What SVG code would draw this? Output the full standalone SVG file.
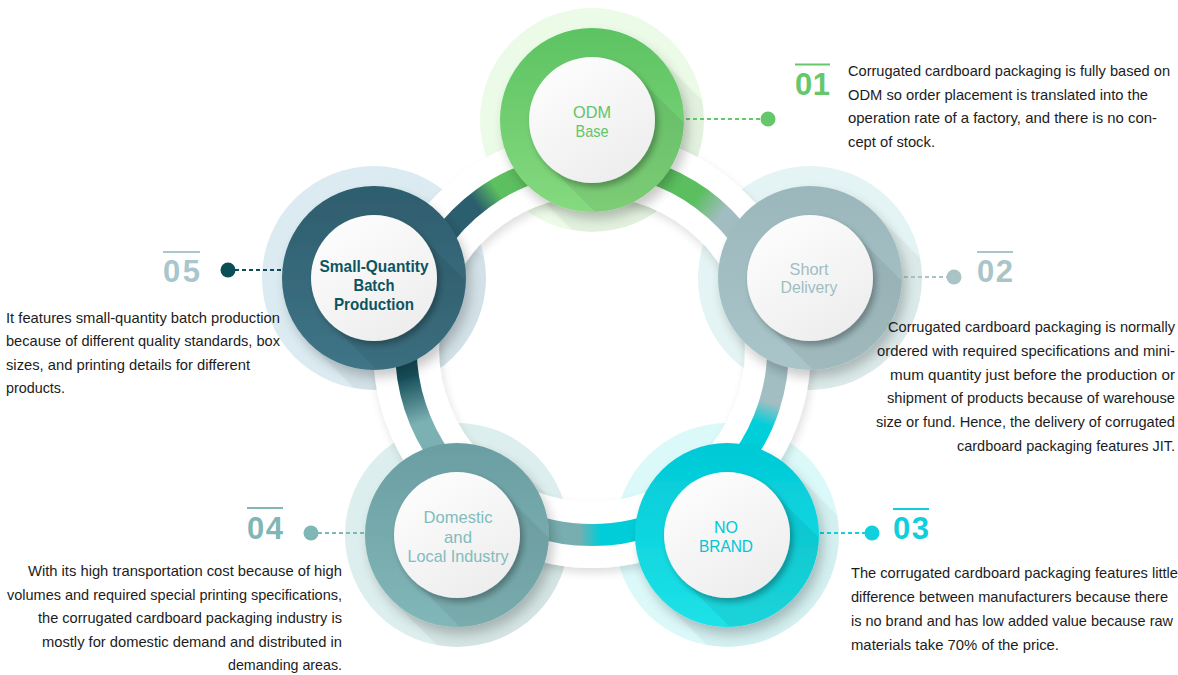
<svg xmlns="http://www.w3.org/2000/svg" width="1178" height="675" viewBox="0 0 1178 675">
<style>
.body{font-family:"Liberation Sans",Arial,sans-serif;font-size:14.5px;fill:#1c1c1c}
.r{text-anchor:end}
.lbl{font-family:"Liberation Sans",Arial,sans-serif;font-size:17px;text-anchor:middle}
.num{font-family:"Liberation Sans",Arial,sans-serif;font-size:31px;font-weight:bold}
.dash{stroke-width:2;stroke-dasharray:4 3;fill:none}
.inner{fill:url(#gInner);filter:url(#fInner)}
.ring{filter:url(#fRing)}
.ls{fill:#000;fill-opacity:0.04}
.ls2{fill:#000;fill-opacity:0.06}
.band{fill:none;stroke-width:22}
</style>
<defs>
<filter id="fRing" x="-30%" y="-30%" width="160%" height="160%">
<feGaussianBlur in="SourceAlpha" stdDeviation="6"/><feOffset dx="4" dy="7"/>
<feComponentTransfer><feFuncA type="linear" slope="0.22"/></feComponentTransfer>
<feMerge><feMergeNode/><feMergeNode in="SourceGraphic"/></feMerge>
</filter>
<filter id="fInner" x="-30%" y="-30%" width="160%" height="160%">
<feGaussianBlur in="SourceAlpha" stdDeviation="3"/><feOffset dx="3" dy="4"/>
<feComponentTransfer><feFuncA type="linear" slope="0.3"/></feComponentTransfer>
<feMerge><feMergeNode/><feMergeNode in="SourceGraphic"/></feMerge>
</filter>
<filter id="fBand" x="-30%" y="-30%" width="160%" height="160%">
<feGaussianBlur in="SourceAlpha" stdDeviation="5"/><feOffset dx="2" dy="5"/>
<feComponentTransfer><feFuncA type="linear" slope="0.13"/></feComponentTransfer>
<feMerge><feMergeNode/><feMergeNode in="SourceGraphic"/></feMerge>
</filter>
<linearGradient id="gInner" x1="0" y1="0" x2="0.6" y2="1"><stop offset="0" stop-color="#ffffff"/><stop offset="1" stop-color="#eeeeee"/></linearGradient>
<linearGradient id="gOdm" x1="0" y1="0" x2="0" y2="1"><stop offset="0" stop-color="#5cc362"/><stop offset="1" stop-color="#86d97f"/></linearGradient>
<linearGradient id="gShort" x1="0" y1="0" x2="0" y2="1"><stop offset="0" stop-color="#9bb7bc"/><stop offset="1" stop-color="#a9c5c9"/></linearGradient>
<linearGradient id="gNb" x1="0" y1="0" x2="0" y2="1"><stop offset="0" stop-color="#00c9d6"/><stop offset="1" stop-color="#1fe2e8"/></linearGradient>
<linearGradient id="gDom" x1="0" y1="0" x2="0" y2="1"><stop offset="0" stop-color="#6a9ea2"/><stop offset="1" stop-color="#82b7b9"/></linearGradient>
<linearGradient id="gSq" x1="0" y1="0" x2="0" y2="1"><stop offset="0" stop-color="#2e5d6d"/><stop offset="1" stop-color="#3f7587"/></linearGradient>
<linearGradient id="bSqOdm" gradientUnits="userSpaceOnUse" x1="451" y1="228" x2="520" y2="177.5"><stop offset="0" stop-color="#2b5e6e"/><stop offset="0.4" stop-color="#2b5e6e"/><stop offset="0.7" stop-color="#5cbf60"/><stop offset="1" stop-color="#5cbf60"/></linearGradient>
<linearGradient id="bOdmShort" gradientUnits="userSpaceOnUse" x1="664" y1="177.5" x2="733" y2="228"><stop offset="0" stop-color="#5bbf5f"/><stop offset="0.45" stop-color="#5bbf5f"/><stop offset="0.8" stop-color="#a2bdc1"/><stop offset="1" stop-color="#a2bdc1"/></linearGradient>
<linearGradient id="bShortNb" gradientUnits="userSpaceOnUse" x1="777" y1="364" x2="751" y2="446"><stop offset="0" stop-color="#a2bec2"/><stop offset="0.45" stop-color="#a2bec2"/><stop offset="0.72" stop-color="#00cfd9"/><stop offset="1" stop-color="#00cfd9"/></linearGradient>
<linearGradient id="bNbDom" gradientUnits="userSpaceOnUse" x1="635" y1="530" x2="549" y2="530"><stop offset="0" stop-color="#00cdd8"/><stop offset="0.4" stop-color="#00cdd8"/><stop offset="0.65" stop-color="#78aeb0"/><stop offset="1" stop-color="#78aeb0"/></linearGradient>
<linearGradient id="bDomSq" gradientUnits="userSpaceOnUse" x1="433" y1="446" x2="407" y2="364"><stop offset="0" stop-color="#7cb1b3"/><stop offset="0.3" stop-color="#7cb1b3"/><stop offset="0.85" stop-color="#164f5b"/><stop offset="1" stop-color="#164f5b"/></linearGradient>
<clipPath id="hOdm" clipPathUnits="userSpaceOnUse"><circle cx="592" cy="120" r="112"/></clipPath>
<clipPath id="hShort" clipPathUnits="userSpaceOnUse"><circle cx="810" cy="278" r="112"/></clipPath>
<clipPath id="hNb" clipPathUnits="userSpaceOnUse"><circle cx="727" cy="535" r="112"/></clipPath>
<clipPath id="hDom" clipPathUnits="userSpaceOnUse"><circle cx="457" cy="535" r="112"/></clipPath>
<clipPath id="hSq" clipPathUnits="userSpaceOnUse"><circle cx="374" cy="278" r="112"/></clipPath>
<clipPath id="rOdm" clipPathUnits="userSpaceOnUse"><circle cx="592" cy="120" r="92"/></clipPath>
<clipPath id="rShort" clipPathUnits="userSpaceOnUse"><circle cx="810" cy="278" r="92"/></clipPath>
<clipPath id="rNb" clipPathUnits="userSpaceOnUse"><circle cx="727" cy="535" r="92"/></clipPath>
<clipPath id="rDom" clipPathUnits="userSpaceOnUse"><circle cx="457" cy="535" r="92"/></clipPath>
<clipPath id="rSq" clipPathUnits="userSpaceOnUse"><circle cx="374" cy="278" r="92"/></clipPath>
</defs>
<rect width="1178" height="675" fill="#ffffff"/>

<g id="halos">
<circle cx="592" cy="120" r="112" fill="#ecfbe8"/>
<path class="ls" clip-path="url(#hOdm)" d="M657 55 L817 215 L687 345 L527 185 Z"/>
<circle cx="810" cy="278" r="112" fill="#e4f3f3"/>
<path class="ls" clip-path="url(#hShort)" d="M875 213 L1035 373 L905 503 L745 343 Z"/>
<circle cx="727" cy="535" r="112" fill="#dcf9fa"/>
<path class="ls" clip-path="url(#hNb)" d="M792 470 L952 630 L822 760 L662 600 Z"/>
<circle cx="457" cy="535" r="112" fill="#dceeed"/>
<path class="ls" clip-path="url(#hDom)" d="M522 470 L682 630 L552 760 L392 600 Z"/>
<circle cx="374" cy="278" r="112" fill="#dbebf1"/>
<path class="ls" clip-path="url(#hSq)" d="M439 213 L599 373 L469 503 L309 343 Z"/>
</g>

<g id="connectors">
<circle cx="592" cy="349" r="186" fill="none" stroke="#ffffff" stroke-width="66" filter="url(#fBand)"/>
<path class="band" stroke="url(#bSqOdm)" d="M415.1 291.5 A186 186 0 0 1 592 163"/>
<path class="band" stroke="url(#bOdmShort)" d="M592 163 A186 186 0 0 1 768.9 291.5"/>
<path class="band" stroke="url(#bShortNb)" d="M768.9 291.5 A186 186 0 0 1 701.3 499.5"/>
<path class="band" stroke="url(#bNbDom)" d="M701.3 499.5 A186 186 0 0 1 482.7 499.5"/>
<path class="band" stroke="url(#bDomSq)" d="M482.7 499.5 A186 186 0 0 1 415.1 291.5"/>
<path class="dash" stroke="#66c66a" d="M686 119 H762"/>
<path class="dash" stroke="#a9c3c6" d="M904 277 H948"/>
<path class="dash" stroke="#0fd0dc" d="M820 533 H866"/>
<path class="dash" stroke="#80b6b5" d="M318 533 H364"/>
<path class="dash" stroke="#0c4e58" d="M235 270 H283"/>
</g>

<g id="node-01">
<circle class="ring" cx="592" cy="120" r="92" fill="url(#gOdm)"/>
<path class="ls2" clip-path="url(#rOdm)" d="M636.5 75.5 L796.5 235.5 L707.5 324.5 L547.5 164.5 Z"/>
<circle class="inner" cx="592" cy="120" r="63"/>
<text class="lbl" fill="#63c468" x="592" y="118" textLength="38" lengthAdjust="spacingAndGlyphs">ODM</text>
<text class="lbl" fill="#63c468" x="592" y="137" textLength="33" lengthAdjust="spacingAndGlyphs">Base</text>
<circle cx="768" cy="119" r="7.5" fill="#66c66a"/>
<line x1="795" y1="64.5" x2="830" y2="64.5" stroke="#67c86b" stroke-width="2"/>
<text class="num" fill="#67c86b" x="795" y="95" textLength="35">01</text>
<text class="body" x="848" y="76" textLength="322" lengthAdjust="spacingAndGlyphs">Corrugated cardboard packaging is fully based on</text>
<text class="body" x="848" y="99.5" textLength="300" lengthAdjust="spacingAndGlyphs">ODM so order placement is translated into the</text>
<text class="body" x="848" y="123" textLength="309" lengthAdjust="spacingAndGlyphs">operation rate of a factory, and there is no con-</text>
<text class="body" x="848" y="146.5" textLength="87" lengthAdjust="spacingAndGlyphs">cept of stock.</text>
</g>

<g id="node-02">
<circle class="ring" cx="810" cy="278" r="92" fill="url(#gShort)"/>
<path class="ls2" clip-path="url(#rShort)" d="M854.5 233.5 L1014.5 393.5 L925.5 482.5 L765.5 322.5 Z"/>
<circle class="inner" cx="810" cy="278" r="63"/>
<text class="lbl" fill="#a0bec3" x="809" y="275" textLength="39" lengthAdjust="spacingAndGlyphs">Short</text>
<text class="lbl" fill="#a0bec3" x="809" y="293" textLength="57" lengthAdjust="spacingAndGlyphs">Delivery</text>
<circle cx="954" cy="277" r="7.5" fill="#a9c3c6"/>
<line x1="977" y1="252" x2="1013" y2="252" stroke="#a9c5c8" stroke-width="2"/>
<text class="num" fill="#a9c5c8" x="977" y="282" textLength="36">02</text>
<text class="body r" x="1175" y="332" textLength="287" lengthAdjust="spacingAndGlyphs">Corrugated cardboard packaging is normally</text>
<text class="body r" x="1175" y="356" textLength="298" lengthAdjust="spacingAndGlyphs">ordered with required specifications and mini-</text>
<text class="body r" x="1175" y="379.5" textLength="285" lengthAdjust="spacingAndGlyphs">mum quantity just before the production or</text>
<text class="body r" x="1175" y="403" textLength="288" lengthAdjust="spacingAndGlyphs">shipment of products because of warehouse</text>
<text class="body r" x="1175" y="427" textLength="299" lengthAdjust="spacingAndGlyphs">size or fund. Hence, the delivery of corrugated</text>
<text class="body r" x="1175" y="450.5" textLength="218" lengthAdjust="spacingAndGlyphs">cardboard packaging features JIT.</text>
</g>

<g id="node-03">
<circle class="ring" cx="727" cy="535" r="92" fill="url(#gNb)"/>
<path class="ls2" clip-path="url(#rNb)" d="M771.5 490.5 L931.5 650.5 L842.5 739.5 L682.5 579.5 Z"/>
<circle class="inner" cx="727" cy="535" r="63"/>
<text class="lbl" fill="#00c7d5" x="726" y="533" textLength="24" lengthAdjust="spacingAndGlyphs">NO</text>
<text class="lbl" fill="#00c7d5" x="726" y="552" textLength="54" lengthAdjust="spacingAndGlyphs">BRAND</text>
<circle cx="872" cy="533" r="7.5" fill="#0fd0dc"/>
<line x1="893" y1="509" x2="929" y2="509" stroke="#10cfdc" stroke-width="2"/>
<text class="num" fill="#10cfdc" x="893" y="539" textLength="36">03</text>
<text class="body" x="851" y="578" textLength="327" lengthAdjust="spacingAndGlyphs">The corrugated cardboard packaging features little</text>
<text class="body" x="851" y="602" textLength="317" lengthAdjust="spacingAndGlyphs">difference between manufacturers because there</text>
<text class="body" x="851" y="626" textLength="322" lengthAdjust="spacingAndGlyphs">is no brand and has low added value because raw</text>
<text class="body" x="851" y="650" textLength="208" lengthAdjust="spacingAndGlyphs">materials take 70% of the price.</text>
</g>

<g id="node-04">
<circle class="ring" cx="457" cy="535" r="92" fill="url(#gDom)"/>
<path class="ls2" clip-path="url(#rDom)" d="M501.5 490.5 L661.5 650.5 L572.5 739.5 L412.5 579.5 Z"/>
<circle class="inner" cx="457" cy="535" r="63"/>
<text class="lbl" fill="#82bcbd" x="458" y="523" textLength="69" lengthAdjust="spacingAndGlyphs">Domestic</text>
<text class="lbl" fill="#82bcbd" x="458" y="542.5" textLength="28" lengthAdjust="spacingAndGlyphs">and</text>
<text class="lbl" fill="#82bcbd" x="458" y="561.5" textLength="101" lengthAdjust="spacingAndGlyphs">Local Industry</text>
<circle cx="311" cy="533" r="7.5" fill="#80b6b5"/>
<line x1="247" y1="508" x2="283" y2="508" stroke="#80b6b5" stroke-width="2"/>
<text class="num" fill="#80b6b5" x="247" y="539" textLength="36">04</text>
<text class="body r" x="342" y="576" textLength="314" lengthAdjust="spacingAndGlyphs">With its high transportation cost because of high</text>
<text class="body r" x="342" y="599.5" textLength="335" lengthAdjust="spacingAndGlyphs">volumes and required special printing specifications,</text>
<text class="body r" x="342" y="623" textLength="304" lengthAdjust="spacingAndGlyphs">the corrugated cardboard packaging industry is</text>
<text class="body r" x="342" y="646.5" textLength="300" lengthAdjust="spacingAndGlyphs">mostly for domestic demand and distributed in</text>
<text class="body r" x="342" y="670" textLength="114" lengthAdjust="spacingAndGlyphs">demanding areas.</text>
</g>

<g id="node-05">
<circle class="ring" cx="374" cy="278" r="92" fill="url(#gSq)"/>
<path class="ls2" clip-path="url(#rSq)" d="M418.5 233.5 L578.5 393.5 L489.5 482.5 L329.5 322.5 Z"/>
<circle class="inner" cx="374" cy="278" r="63"/>
<text class="lbl" fill="#0d5461" font-weight="bold" x="374" y="272" textLength="109" lengthAdjust="spacingAndGlyphs">Small-Quantity</text>
<text class="lbl" fill="#0d5461" font-weight="bold" x="374" y="290.5" textLength="41" lengthAdjust="spacingAndGlyphs">Batch</text>
<text class="lbl" fill="#0d5461" font-weight="bold" x="374" y="309.5" textLength="80" lengthAdjust="spacingAndGlyphs">Production</text>
<circle cx="228" cy="270" r="7.5" fill="#0c4e58"/>
<line x1="163" y1="252" x2="200" y2="252" stroke="#a8c6cb" stroke-width="2"/>
<text class="num" fill="#a8c6cb" x="163" y="282" textLength="37">05</text>
<text class="body" x="6" y="322.5" textLength="274" lengthAdjust="spacingAndGlyphs">It features small-quantity batch production</text>
<text class="body" x="6" y="346" textLength="274" lengthAdjust="spacingAndGlyphs">because of different quality standards, box</text>
<text class="body" x="6" y="369.5" textLength="244" lengthAdjust="spacingAndGlyphs">sizes, and printing details for different</text>
<text class="body" x="6" y="393" textLength="59" lengthAdjust="spacingAndGlyphs">products.</text>
</g>
</svg>
